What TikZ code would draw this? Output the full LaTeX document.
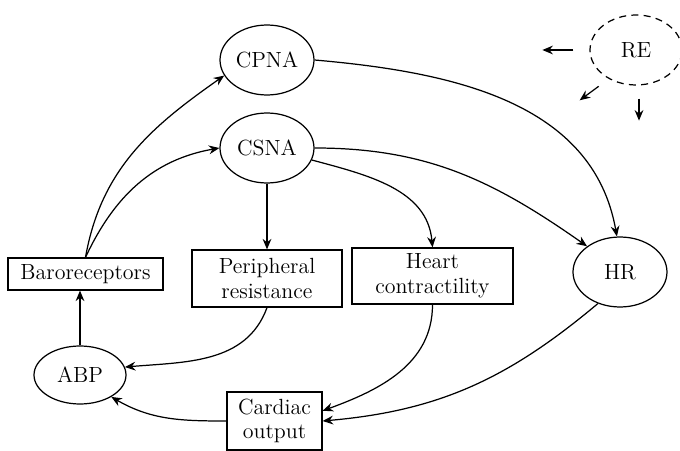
\documentclass[tikz,border=0pt]{standalone}
\usepackage{tikz}
\usetikzlibrary{shapes.geometric}
\usetikzlibrary{arrows.meta}

\begin{document}
\begin{tikzpicture}[x=0.02cm, y=0.02cm, line width=0.7pt, >={Stealth[length=6pt, width=5pt, inset=2pt]},
		every node/.style={font=\fontsize{12.5}{14}\selectfont, inner sep=0pt, align=center},
		var/.style={draw, ellipse, minimum width=1.88cm, minimum height=1.4cm},
		block/.style={draw, rectangle}]
				\useasboundingbox (0, 0) rectangle (680, 450);
				% Nodes:
				\node[var](cpna) at (267, 390){CPNA};
				\node[var](csna) at (267, 302){CSNA};
				\node[var, dashed, dash pattern=on 4pt off 3pt, minimum width=1.84cm](re) at (636, 400){RE};
				\node[var](hr) at (620, 178){HR};
				\node[var, minimum width=1.84cm, minimum height=1.16cm](abp) at (80, 75){ABP};
				\node[block, minimum width=3.1cm, minimum height=0.64cm](baro) at (85.5, 176){Baroreceptors};
				\node[block, minimum width=3cm, minimum height=1.14cm](periph) at (267, 171.5){Peripheral\\resistance};
				\node[block, minimum width=3.22cm, minimum height=1.12cm](heart) at (432.5, 174){Heart\\contractility};
				\node[block, minimum width=1.9cm, minimum height=1.16cm](cardiac) at (274.5, 29){Cardiac\\output};
				% Paths:
				\draw[->] (baro.north) to[out=80, in=215] (cpna.200);
				\draw[->] (baro.north) to[out=65, in=190] (csna.west);
				\draw[->] (cpna.east) to[out=-5, in=100] (hr.95);
				\draw[->] (csna.east) to[out=0, in=145] (hr.142);
				\draw[->] (csna.-15) to[out=-15, in=95] (heart.north);
				\draw[->] (csna.south) -- (periph.north);
				\draw[->] (periph.south) to[out=-110, in=5] (abp.10);
				\draw[->] (heart.south) to[out=-90, in=20] (cardiac.12);
				\draw[->] (hr.235) to[out=-140, in=5] (cardiac.east);
				\draw[->] (cardiac.west) to[out=180, in=-30] (abp.-35);
				\draw[->] (abp.north) -- (abp.north |- baro.south);
				% Arrows from RE:
				\draw[->] (re.west) ++(-16, 0) -- ++(-31, 0);
				\draw[->] (re.225) ++(-9, -8) -- ++(-19, -14);
				\draw[->] (re.south) ++(3, -13) -- ++(0, -22);
			\end{tikzpicture}
\end{document}
